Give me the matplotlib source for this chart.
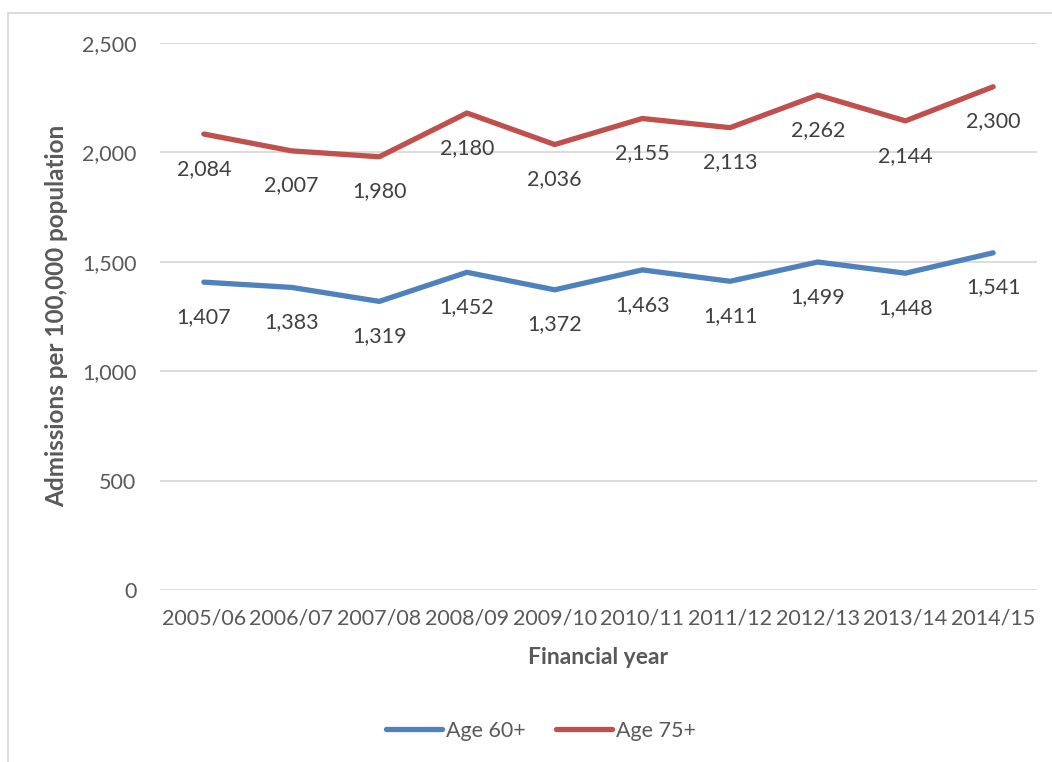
import matplotlib
matplotlib.use("Agg")
import matplotlib.pyplot as plt
from matplotlib.lines import Line2D

years = ["2005/06", "2006/07", "2007/08", "2008/09", "2009/10",
         "2010/11", "2011/12", "2012/13", "2013/14", "2014/15"]
age60 = [1407, 1383, 1319, 1452, 1372, 1463, 1411, 1499, 1448, 1541]
age75 = [2084, 2007, 1980, 2180, 2036, 2155, 2113, 2262, 2144, 2300]
yticks = [0, 500, 1000, 1500, 2000, 2500]

plt.rcParams['font.family'] = ['Lato', 'DejaVu Sans']

W, H = 1052, 762
fig = plt.figure(figsize=(W / 100, H / 100), dpi=100)

# chart frame (left and top edges)
fig.add_artist(Line2D([8 / W, 8 / W], [0, 1 - 13 / H], color="#D9D9D9", lw=1.3,
                      transform=fig.transFigure))
fig.add_artist(Line2D([8 / W, 1], [1 - 13 / H, 1 - 13 / H], color="#D9D9D9", lw=1.3,
                      transform=fig.transFigure))

left, right = 160 / W, 1037 / W
bottom, top = 1 - 590 / H, 1 - 43 / H
ax = fig.add_axes([left, bottom, right - left, top - bottom])

x = list(range(len(years)))
blue, red = "#4F81BD", "#C0504D"
ax.plot(x, age60, color=blue, lw=3.8, solid_capstyle="round", label="Age 60+", zorder=3)
ax.plot(x, age75, color=red, lw=3.8, solid_capstyle="round", label="Age 75+", zorder=3)

fs = 15.5
for series in (age60, age75):
    for xi, v in zip(x, series):
        ax.annotate(f"{v:,}", (xi, v), xytext=(0, -25), textcoords="offset points",
                    ha="center", va="center", fontsize=fs, color="#404040")

ax.set_xlim(-0.5, len(years) - 0.5)
ax.set_ylim(0, 2500)
ax.set_yticks(yticks)
ax.set_yticklabels([f"{t:,}" for t in yticks])
ax.set_xticks(x)
ax.set_xticklabels(years)
ax.yaxis.grid(True, color="#D9D9D9", lw=1.3)
ax.set_axisbelow(True)
for s in ax.spines.values():
    s.set_visible(False)
ax.tick_params(axis="both", length=0, labelsize=fs, labelcolor="#595959")
ax.tick_params(axis="y", pad=17)
ax.tick_params(axis="x", pad=13)

ax.set_xlabel("Financial year", fontsize=16.5, fontweight="bold", color="#595959", labelpad=14)
ax.set_ylabel("Admissions per 100,000 population", fontsize=17.5, fontweight="bold",
              color="#595959")
ax.yaxis.set_label_coords((68 - 160) / 877, (590 - 316) / 547)

leg = fig.legend(handles=ax.get_lines(), loc="center", bbox_to_anchor=(541 / W, 1 - 731 / H),
                 ncol=2, frameon=False, fontsize=fs, handlelength=2.6, handletextpad=0.2,
                 columnspacing=1.4)
for t in leg.get_texts():
    t.set_color("#595959")

fig.savefig("out.png", dpi=100, facecolor="white")
